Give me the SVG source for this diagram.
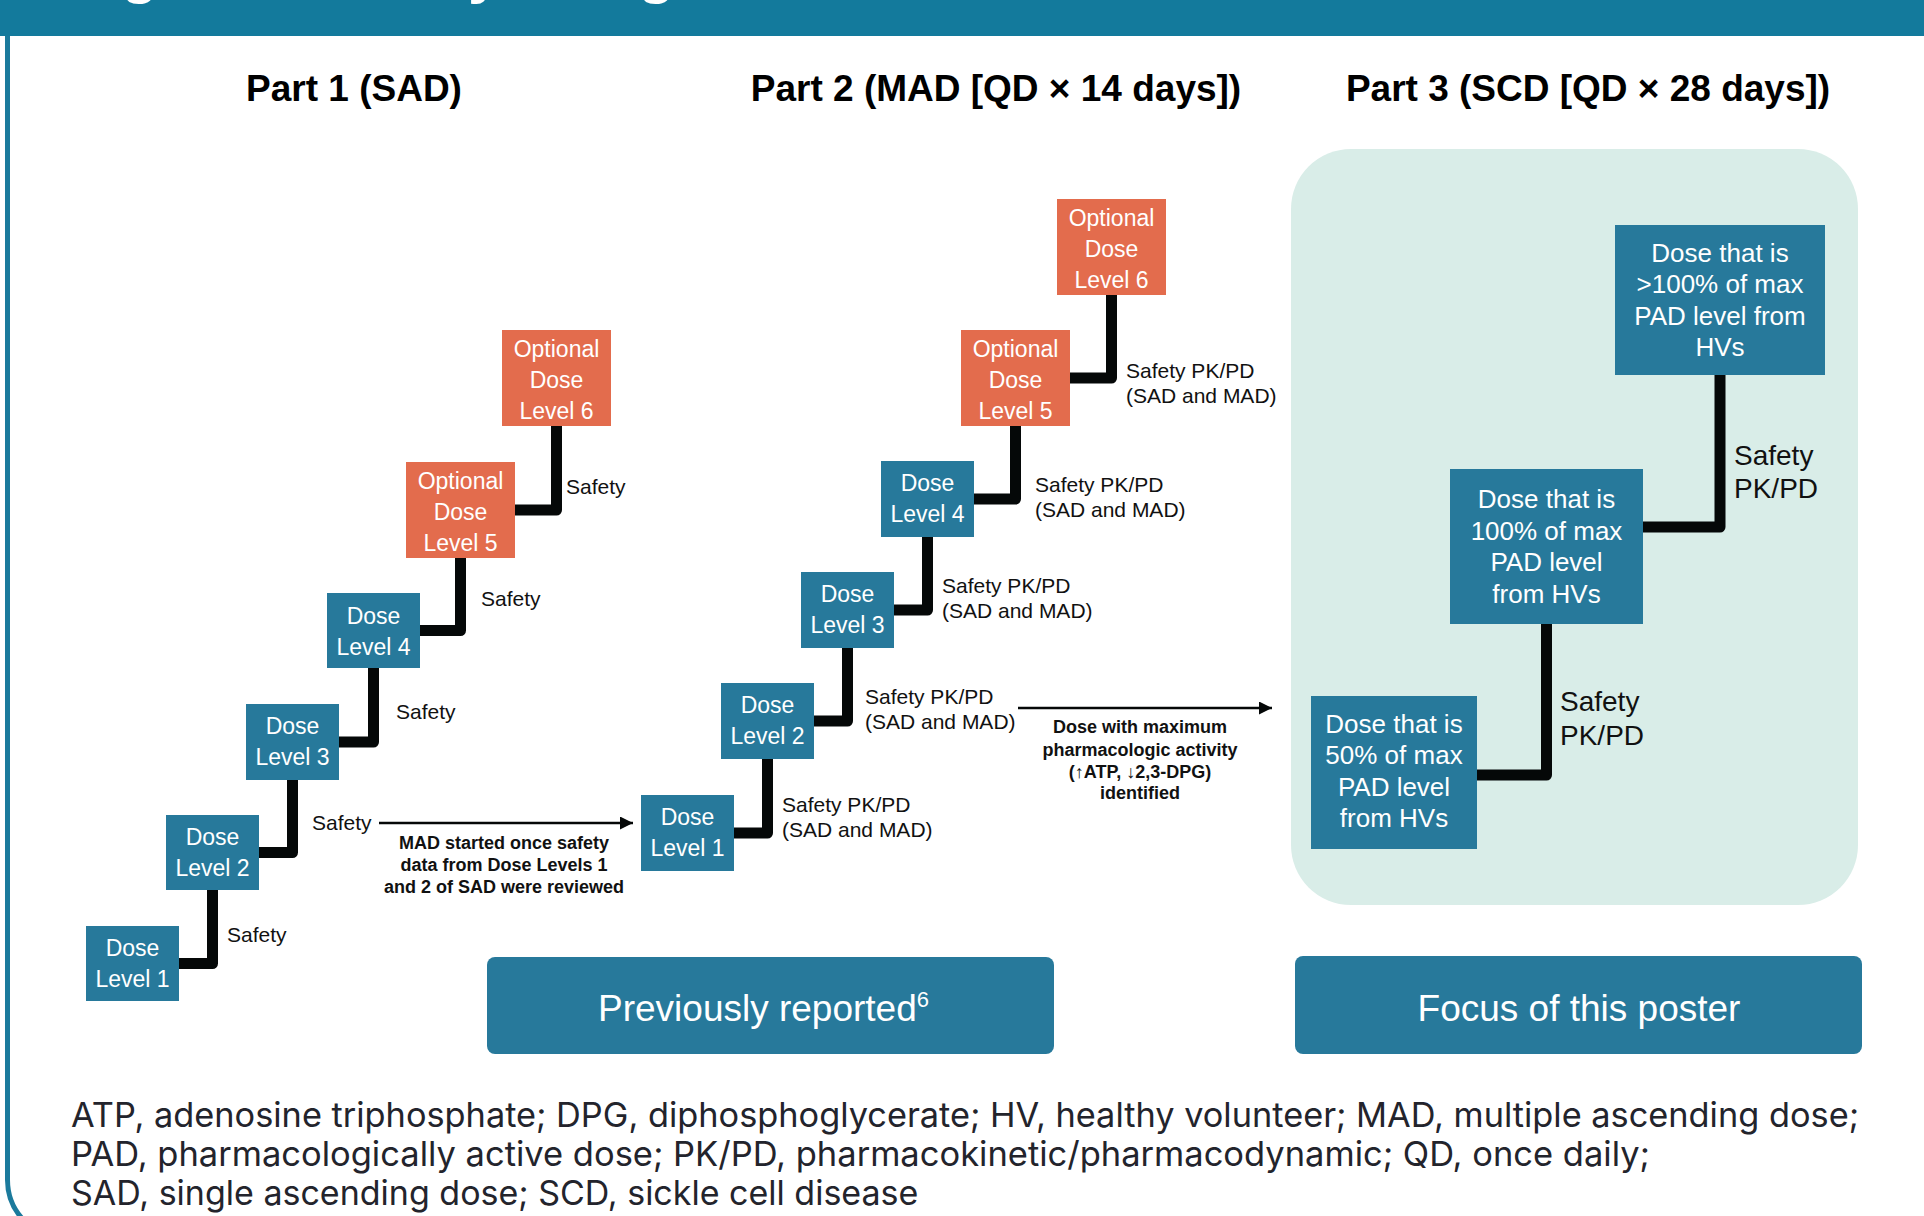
<svg xmlns="http://www.w3.org/2000/svg" width="1924" height="1216" viewBox="0 0 1924 1216">
<defs>
<style>
.box{fill:#27799B}
.opt{fill:#E36C4D}
.bt{font-family:"Liberation Sans",Arial,sans-serif;font-size:23px;fill:#ffffff;text-anchor:middle}
.bt3{font-family:"Liberation Sans",Arial,sans-serif;font-size:26px;fill:#ffffff;text-anchor:middle}
.lbl{font-family:"Liberation Sans",Arial,sans-serif;font-size:21px;fill:#111111}
.lbl3{font-family:"Liberation Sans",Arial,sans-serif;font-size:28px;fill:#111111}
.note{font-family:"Liberation Sans",Arial,sans-serif;font-size:18px;font-weight:bold;fill:#111111;text-anchor:middle}
.title{font-family:"Liberation Sans",Arial,sans-serif;font-size:37px;font-weight:bold;fill:#000000;text-anchor:middle}
.conn{fill:none;stroke:#050808;stroke-width:11;stroke-linejoin:round}
.arr{fill:none;stroke:#050808;stroke-width:2.5}
.ban{fill:#27799B}
.bant{font-family:"Liberation Sans",Arial,sans-serif;font-size:37px;fill:#ffffff}
.foot{font-family:Inter,"Noto Sans",sans-serif;font-size:34px;fill:#23242C}
</style>
<marker id="ah" viewBox="0 0 10 10" refX="10" refY="5" markerWidth="5.2" markerHeight="5.2" orient="auto" markerUnits="strokeWidth">
<path d="M0,0 L10,5 L0,10 z" fill="#050808"/>
</marker>
</defs>
<rect x="0" y="0" width="1924" height="1216" fill="#ffffff"/>
<path d="M7.5,20 V1180 A58,58 0 0 0 65.5,1238" fill="none" stroke="#1B7A9C" stroke-width="5"/>
<rect x="0" y="0" width="1924" height="36" fill="#137A9C"/>
<text x="68" y="-8" font-family="Liberation Sans, Arial, sans-serif" font-size="60" font-weight="bold" fill="#ffffff">Figure 1. Study design</text>

<g id="titles">
<text class="title" x="354" y="101">Part 1 (SAD)</text>
<text class="title" x="996" y="101">Part 2 (MAD [QD × 14 days])</text>
<text class="title" x="1588" y="101">Part 3 (SCD [QD × 28 days])</text>
</g>

<rect id="part3-bg" x="1291" y="149" width="567" height="756" rx="60" fill="#D9EDE8"/>

<g id="connectors">
<path class="conn" d="M179,963.5 H212.5 V890"/>
<path class="conn" d="M259,852.5 H292.5 V780"/>
<path class="conn" d="M339,742 H373.5 V668"/>
<path class="conn" d="M420,630.5 H460.5 V558"/>
<path class="conn" d="M515,510 H556.5 V426"/>
<path class="conn" d="M734,833 H767.5 V759"/>
<path class="conn" d="M814,721 H847.5 V648"/>
<path class="conn" d="M894,610 H927.5 V537"/>
<path class="conn" d="M974,499 H1015.5 V426"/>
<path class="conn" d="M1070,378 H1111.5 V295"/>
<path class="conn" d="M1477,775 H1546.5 V624"/>
<path class="conn" d="M1643,527 H1720 V375"/>
<path class="arr" d="M379,823 H633" marker-end="url(#ah)"/>
<path class="arr" d="M1018,708 H1272" marker-end="url(#ah)"/>
<text class="lbl" x="227" y="942">Safety</text>
<text class="lbl" x="312" y="830">Safety</text>
<text class="lbl" x="396" y="719">Safety</text>
<text class="lbl" x="481" y="606">Safety</text>
<text class="lbl" x="566" y="494">Safety</text>
<text class="lbl" x="782" y="812">Safety PK/PD<tspan x="782" dy="25">(SAD and MAD)</tspan></text>
<text class="lbl" x="865" y="704">Safety PK/PD<tspan x="865" dy="25">(SAD and MAD)</tspan></text>
<text class="lbl" x="942" y="593">Safety PK/PD<tspan x="942" dy="25">(SAD and MAD)</tspan></text>
<text class="lbl" x="1035" y="492">Safety PK/PD<tspan x="1035" dy="25">(SAD and MAD)</tspan></text>
<text class="lbl" x="1126" y="378">Safety PK/PD<tspan x="1126" dy="25">(SAD and MAD)</tspan></text>
<text class="lbl3" x="1734" y="465">Safety<tspan x="1734" dy="33">PK/PD</tspan></text>
<text class="lbl3" x="1560" y="711">Safety<tspan x="1560" dy="34">PK/PD</tspan></text>
<text class="note" x="504" y="849">MAD started once safety<tspan x="504" dy="22">data from Dose Levels 1</tspan><tspan x="504" dy="22">and 2 of SAD were reviewed</tspan></text>
<text class="note" x="1140" y="733">Dose with maximum<tspan x="1140" dy="22.5">pharmacologic activity</tspan><tspan x="1140" dy="22.5">(↑ATP, ↓2,3-DPG)</tspan><tspan x="1140" dy="21">identified</tspan></text>
</g>

<g id="p1-dl1"><rect class="box" x="86" y="926" width="93" height="75"/><text class="bt" x="132.5" y="956">Dose<tspan x="132.5" dy="31">Level 1</tspan></text></g>
<g id="p1-dl2"><rect class="box" x="166" y="815" width="93" height="75"/><text class="bt" x="212.5" y="845">Dose<tspan x="212.5" dy="31">Level 2</tspan></text></g>
<g id="p1-dl3"><rect class="box" x="246" y="704" width="93" height="76"/><text class="bt" x="292.5" y="734">Dose<tspan x="292.5" dy="31">Level 3</tspan></text></g>
<g id="p1-dl4"><rect class="box" x="327" y="593" width="93" height="75"/><text class="bt" x="373.5" y="624">Dose<tspan x="373.5" dy="31">Level 4</tspan></text></g>
<g id="p1-dl5"><rect class="opt" x="406" y="462" width="109" height="96"/><text class="bt" x="460.5" y="489">Optional<tspan x="460.5" dy="31">Dose</tspan><tspan x="460.5" dy="31">Level 5</tspan></text></g>
<g id="p1-dl6"><rect class="opt" x="502" y="330" width="109" height="96"/><text class="bt" x="556.5" y="357">Optional<tspan x="556.5" dy="31">Dose</tspan><tspan x="556.5" dy="31">Level 6</tspan></text></g>

<g id="p2-dl1"><rect class="box" x="641" y="795" width="93" height="76"/><text class="bt" x="687.5" y="825">Dose<tspan x="687.5" dy="31">Level 1</tspan></text></g>
<g id="p2-dl2"><rect class="box" x="721" y="683" width="93" height="76"/><text class="bt" x="767.5" y="713">Dose<tspan x="767.5" dy="31">Level 2</tspan></text></g>
<g id="p2-dl3"><rect class="box" x="801" y="572" width="93" height="76"/><text class="bt" x="847.5" y="602">Dose<tspan x="847.5" dy="31">Level 3</tspan></text></g>
<g id="p2-dl4"><rect class="box" x="881" y="461" width="93" height="76"/><text class="bt" x="927.5" y="491">Dose<tspan x="927.5" dy="31">Level 4</tspan></text></g>
<g id="p2-dl5"><rect class="opt" x="961" y="330" width="109" height="96"/><text class="bt" x="1015.5" y="357">Optional<tspan x="1015.5" dy="31">Dose</tspan><tspan x="1015.5" dy="31">Level 5</tspan></text></g>
<g id="p2-dl6"><rect class="opt" x="1057" y="199" width="109" height="96"/><text class="bt" x="1111.5" y="226">Optional<tspan x="1111.5" dy="31">Dose</tspan><tspan x="1111.5" dy="31">Level 6</tspan></text></g>

<g id="p3-top"><rect class="box" x="1615" y="225" width="210" height="150"/><text class="bt3" x="1720" y="262">Dose that is<tspan x="1720" dy="31.3">&gt;100% of max</tspan><tspan x="1720" dy="31.3">PAD level from</tspan><tspan x="1720" dy="31.3">HVs</tspan></text></g>
<g id="p3-mid"><rect class="box" x="1450" y="469" width="193" height="155"/><text class="bt3" x="1546.5" y="508">Dose that is<tspan x="1546.5" dy="31.6">100% of max</tspan><tspan x="1546.5" dy="31.6">PAD level</tspan><tspan x="1546.5" dy="31.6">from HVs</tspan></text></g>
<g id="p3-low"><rect class="box" x="1311" y="696" width="166" height="153"/><text class="bt3" x="1394" y="733">Dose that is<tspan x="1394" dy="31.3">50% of max</tspan><tspan x="1394" dy="31.3">PAD level</tspan><tspan x="1394" dy="31.3">from HVs</tspan></text></g>

<g id="banner-prev"><rect class="ban" x="487" y="957" width="567" height="97" rx="8"/><text class="bant" x="598" y="1021">Previously reported<tspan font-size="22" dy="-14">6</tspan></text></g>
<g id="banner-focus"><rect class="ban" x="1295" y="956" width="567" height="98" rx="8"/><text class="bant" x="1579" y="1021" text-anchor="middle">Focus of this poster</text></g>

<g id="footnote">
<text class="foot" x="71" y="1127" textLength="1788" lengthAdjust="spacingAndGlyphs">ATP, adenosine triphosphate; DPG, diphosphoglycerate; HV, healthy volunteer; MAD, multiple ascending dose;</text>
<text class="foot" x="71" y="1166" textLength="1579" lengthAdjust="spacingAndGlyphs">PAD, pharmacologically active dose; PK/PD, pharmacokinetic/pharmacodynamic; QD, once daily;</text>
<text class="foot" x="71" y="1205">SAD, single ascending dose; SCD, sickle cell disease</text>
</g>
</svg>
